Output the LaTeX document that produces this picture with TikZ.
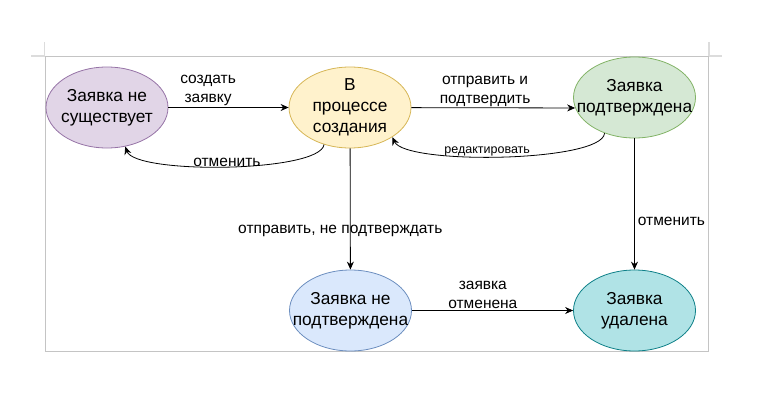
\documentclass[tikz,border=0pt]{standalone}
\usepackage{fontspec}
\setmainfont{Liberation Sans}
\usetikzlibrary{positioning,shapes.geometric,arrows.meta}

\definecolor{lilacfill}{HTML}{E1D5E7}
\definecolor{lilacline}{HTML}{9673A6}
\definecolor{creamfill}{HTML}{FFF2CC}
\definecolor{creamline}{HTML}{D6B656}
\definecolor{greenfill}{HTML}{D5E8D4}
\definecolor{greenline}{HTML}{82B366}
\definecolor{bluefill}{HTML}{DAE8FC}
\definecolor{blueline}{HTML}{6C8EBF}
\definecolor{tealfill}{HTML}{B0E3E6}
\definecolor{tealline}{HTML}{0E8088}
\definecolor{framegray}{HTML}{C4C4C4}
\definecolor{tickgray}{HTML}{DCDCDC}

\begin{document}
\begin{tikzpicture}[x=1pt, y=-1pt, thick, >={Stealth[length=8pt, width=7pt]},
    main/.style = {draw, ellipse, minimum width=122pt, minimum height=81pt,
        inner xsep=-20pt, inner ysep=-6pt, align=center,
        font=\fontsize{17.3}{21}\selectfont},
    lbl/.style = {align=center, inner sep=1pt, font=\fontsize{15.5}{19}\selectfont}]
    \useasboundingbox (0,0) rectangle (757,407);
    % page frame
    \draw[tickgray, line width=1.2pt] (31,56) -- (45,56) (44.5,42) -- (44.5,56)
        (709,42) -- (709,56) (709,56) -- (722,56);
    \draw[framegray, line width=1.2pt] (45.3,56.3) rectangle (708.3,351.5);
    % states
    \node[main, fill=lilacfill, draw=lilacline] (none) at (107,107.5) {Заявка не\\существует};
    \node[main, fill=creamfill, draw=creamline] (draft) at (350,107.5) {В\\процессе\\создания};
    \node[main, fill=greenfill, draw=greenline] (confirmed) at (634.5,97.5) {Заявка\\подтверждена};
    \node[main, fill=bluefill, draw=blueline] (unconfirmed) at (350.5,310.5) {Заявка не\\подтверждена};
    \node[main, fill=tealfill, draw=tealline] (deleted) at (634.5,310.5) {Заявка\\удалена};
    % transitions
    \draw[->] (none) -- node[lbl, pos=0.33, above] {создать\\заявку} (draft);
    \draw[->] (draft) -- node[lbl, pos=0.45, above] {отправить и\\подтвердить} (confirmed.190);
    \draw[->] (draft.235) .. controls +(-4,28) and +(10,28) .. node[lbl, midway, above, inner sep=0pt] {отменить} (none.295);
    \draw[->] (confirmed.230) .. controls +(-2,29) and +(13,28) .. node[lbl, pos=0.55, above, inner sep=0pt, font=\fontsize{12.5}{15}\selectfont] {редактировать} (draft.325);
    \draw[->] (draft) -- node[lbl, pos=0.68, xshift=-10pt] {отправить, не подтверждать} (unconfirmed);
    \draw[->] (confirmed) -- node[lbl, pos=0.63, right, inner sep=3pt] {отменить} (deleted);
    \draw[->] (unconfirmed) -- node[lbl, pos=0.44, above] {заявка\\отменена} (deleted);
\end{tikzpicture}
\end{document}
